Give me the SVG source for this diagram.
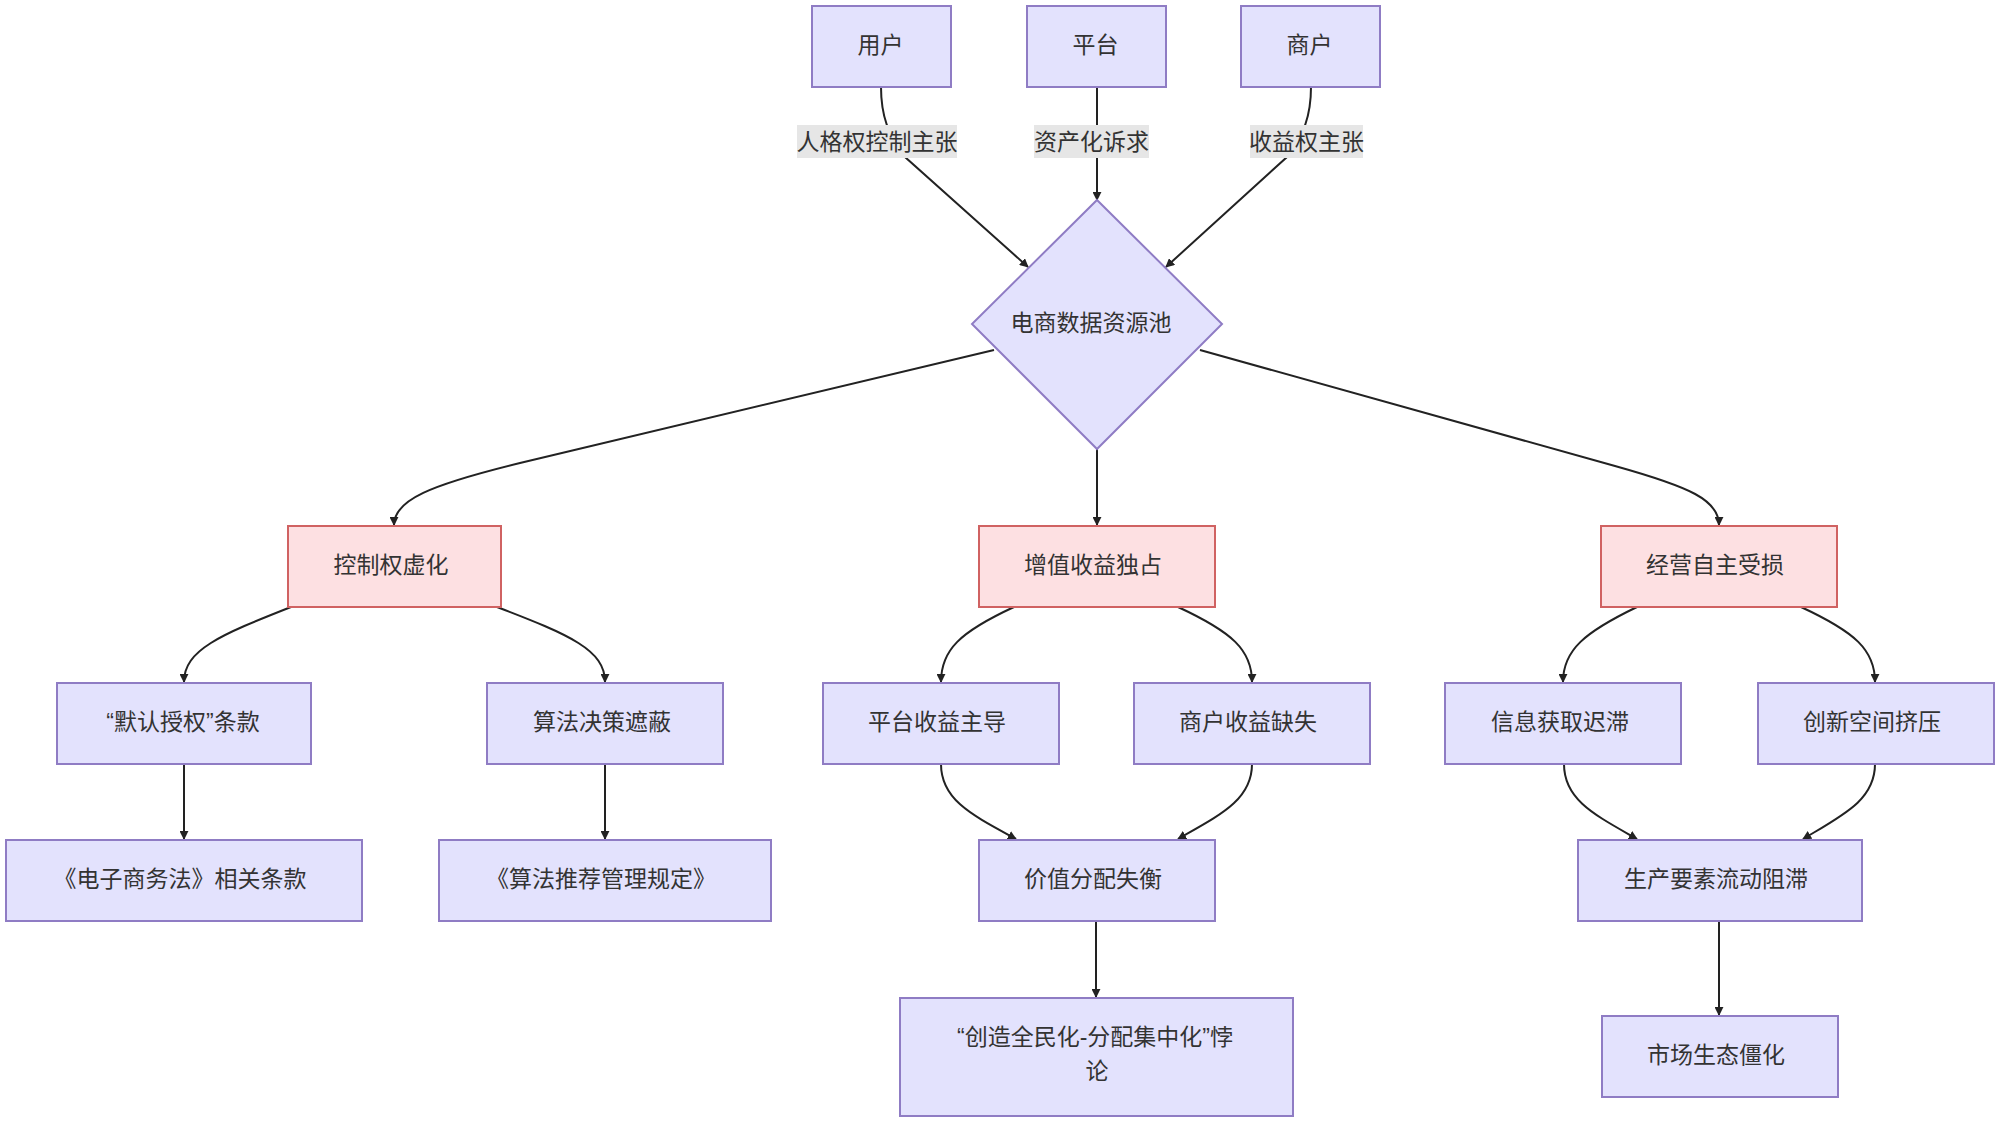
<svg xmlns="http://www.w3.org/2000/svg" width="2000" height="1124" viewBox="0 0 2000 1124">
<defs>
<marker id="arr" viewBox="0 0 10 10" refX="9" refY="5" markerWidth="9" markerHeight="9" markerUnits="userSpaceOnUse" orient="auto">
<path d="M0,0 L10,5 L0,10 z" fill="#222"/>
</marker>
<style>
.n rect, .n polygon { fill: #e3e2fd; stroke: #8f7cc4; stroke-width: 2; }
.r rect { fill: #fde0e2; stroke: #d06262; stroke-width: 2; }
text { font-family: "Liberation Sans", "Noto Sans CJK SC", sans-serif; font-size: 23px; fill: #333; text-anchor: middle; dominant-baseline: central; }
.e path { fill: none; stroke: #222; stroke-width: 2; }
.e path.a { marker-end: url(#arr); }
.lb rect { fill: #e6e6e6; }
</style>
</defs>
<rect width="2000" height="1124" fill="#ffffff"/>

<g class="e" id="connectors">
<path class="a" d="M881,87 C881,115 888,135 905,157 L1028,267"/>
<path class="a" d="M1097,87 L1097,200"/>
<path class="a" d="M1311,87 C1311,115 1304,135 1287,157 L1166,267"/>
<path class="a" d="M994,350 L520,463 C430,485 394,500 394,525"/>
<path class="a" d="M1097,449 L1097,525"/>
<path class="a" d="M1200,350 L1615,466 C1690,487 1719,500 1719,525"/>
<path class="a" d="M291,607 C220,635 184,650 184,682"/>
<path class="a" d="M497,607 C570,635 605,650 605,682"/>
<path class="a" d="M184,764 L184,839"/>
<path class="a" d="M605,764 L605,839"/>
<path class="a" d="M1014,607 C960,632 941,650 941,682"/>
<path class="a" d="M1178,607 C1232,632 1252,650 1252,682"/>
<path class="a" d="M941,764 C941,800 972,815 1016,839"/>
<path class="a" d="M1252,764 C1252,800 1220,815 1178,839"/>
<path class="a" d="M1096,921 L1096,997"/>
<path class="a" d="M1637,607 C1585,632 1563,650 1563,682"/>
<path class="a" d="M1801,607 C1855,632 1875,650 1875,682"/>
<path class="a" d="M1564,764 C1564,800 1595,815 1637,839"/>
<path class="a" d="M1875,764 C1875,800 1843,815 1803,839"/>
<path class="a" d="M1719,921 L1719,1015"/>
</g>

<g class="lb" id="edge-labels">
<rect x="797" y="125" width="160" height="33"/>
<text x="877" y="142">人格权控制主张</text>
<rect x="1034" y="125" width="115" height="33"/>
<text x="1091.5" y="142">资产化诉求</text>
<rect x="1250" y="125" width="113" height="33"/>
<text x="1306.5" y="142">收益权主张</text>
</g>

<g class="n" id="user"><rect x="812" y="6" width="139" height="81"/><text x="880.5" y="44.5">用户</text></g>
<g class="n" id="platform"><rect x="1027" y="6" width="139" height="81"/><text x="1095.5" y="44.5">平台</text></g>
<g class="n" id="merchant"><rect x="1241" y="6" width="139" height="81"/><text x="1309.5" y="44.5">商户</text></g>

<g class="n" id="pool"><polygon points="1097,200 1222,324 1097,449 972,324"/><text x="1091" y="322.5">电商数据资源池</text></g>

<g class="r" id="control"><rect x="288" y="526" width="213" height="81"/><text x="391" y="564.5">控制权虚化</text></g>
<g class="r" id="monopoly"><rect x="979" y="526" width="236" height="81"/><text x="1093" y="564.5">增值收益独占</text></g>
<g class="r" id="autonomy"><rect x="1601" y="526" width="236" height="81"/><text x="1715" y="564.5">经营自主受损</text></g>

<g class="n" id="default-auth"><rect x="57" y="683" width="254" height="81"/><text x="183" y="721.5">“默认授权”条款</text></g>
<g class="n" id="algo-mask"><rect x="487" y="683" width="236" height="81"/><text x="602" y="721.5">算法决策遮蔽</text></g>
<g class="n" id="platform-gain"><rect x="823" y="683" width="236" height="81"/><text x="937" y="721.5">平台收益主导</text></g>
<g class="n" id="merchant-loss"><rect x="1134" y="683" width="236" height="81"/><text x="1248" y="721.5">商户收益缺失</text></g>
<g class="n" id="info-lag"><rect x="1445" y="683" width="236" height="81"/><text x="1560" y="721.5">信息获取迟滞</text></g>
<g class="n" id="innovation"><rect x="1758" y="683" width="236" height="81"/><text x="1872" y="721.5">创新空间挤压</text></g>

<g class="n" id="ecommerce-law"><rect x="6" y="840" width="356" height="81"/><text x="180" y="878.5">《电子商务法》相关条款</text></g>
<g class="n" id="algo-rule"><rect x="439" y="840" width="332" height="81"/><text x="601" y="878.5">《算法推荐管理规定》</text></g>
<g class="n" id="imbalance"><rect x="979" y="840" width="236" height="81"/><text x="1093" y="878.5">价值分配失衡</text></g>
<g class="n" id="factor-block"><rect x="1578" y="840" width="284" height="81"/><text x="1716" y="878.5">生产要素流动阻滞</text></g>

<g class="n" id="paradox"><rect x="900" y="998" width="393" height="118"/><text x="1095" y="1036.5">“创造全民化-分配集中化”悖</text><text x="1097" y="1070.5">论</text></g>
<g class="n" id="rigid"><rect x="1602" y="1016" width="236" height="81"/><text x="1716" y="1054.5">市场生态僵化</text></g>
</svg>
